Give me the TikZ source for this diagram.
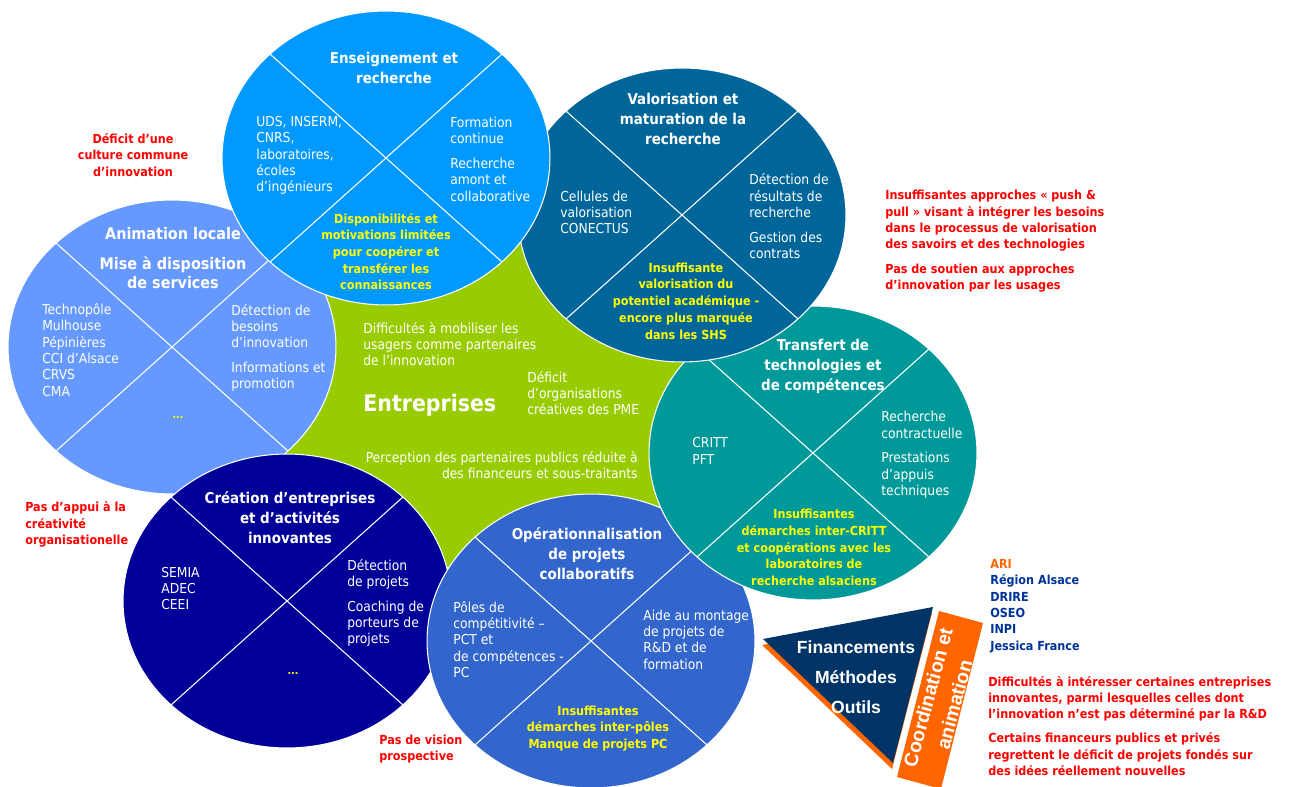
\documentclass[tikz,border=0pt]{standalone}
\usepackage{fontspec}
\setmainfont{DejaVu Sans Condensed}
\newfontfamily\arialfont{Liberation Sans}
\usepackage{xcolor}
\usetikzlibrary{positioning,shapes.geometric}

\definecolor{ensblue}{HTML}{0099FF}
\definecolor{valoblue}{HTML}{006699}
\definecolor{animblue}{HTML}{6699FF}
\definecolor{transteal}{HTML}{009999}
\definecolor{creanavy}{HTML}{000099}
\definecolor{operblue}{HTML}{3366CC}
\definecolor{entgreen}{HTML}{99CC00}
\definecolor{trinavy}{HTML}{003366}
\definecolor{ariorange}{HTML}{FF6600}
\definecolor{actorblue}{HTML}{003399}
\definecolor{lackred}{HTML}{FF0000}
\definecolor{issueyellow}{HTML}{FFFF00}

\tikzset{
  bubble/.style={ellipse, minimum width=6.56cm, minimum height=5.88cm, inner sep=0pt, outer sep=0pt, draw=white, line width=0.6pt},
  quarterline/.style={draw=white, line width=0.6pt},
  head/.style={text=white, font=\bfseries\fontsize{8.5}{11.4}\selectfont, align=center, inner sep=0pt},
  item/.style={text=white, font=\fontsize{7.8}{9.3}\selectfont, align=left, anchor=west, inner sep=0pt},
  issue/.style={text=issueyellow, font=\bfseries\fontsize{7.1}{9.5}\selectfont, align=center, inner sep=0pt},
  lack/.style={text=lackred, font=\bfseries\fontsize{7.1}{9.3}\selectfont, align=left, anchor=west, inner sep=0pt}
}

\begin{document}
\begin{tikzpicture}[x=0.02cm, y=-0.02cm]
\useasboundingbox (0,0) rectangle (1289,787);

% Entreprises
\node[ellipse, fill=entgreen, minimum width=9.2cm, minimum height=6.8cm] (ent) at (490,400) {};

% Animation locale
\node[bubble, fill=animblue] (anim) at (172,347) {};
\draw[quarterline] (anim.north west) -- (anim.south east) (anim.north east) -- (anim.south west);
\node[head, font=\bfseries\fontsize{9.1}{11.1}\selectfont] (anim-t) at (173,258.5) {Animation locale\\[5.7pt]Mise à disposition\\de services};
\node[item] (anim-l) at (42,350) {Technopôle\\Mulhouse\\Pépinières\\CCI d’Alsace\\CRVS\\CMA};
\node[item] (anim-r) at (231,348) {Détection de\\besoins\\d’innovation\\[4.8pt]Informations et\\promotion};
\node[issue, font=\bfseries\fontsize{6}{7}\selectfont] (anim-b) at (178,418) {...};

% Creation
\node[bubble, fill=creanavy] (crea) at (287,601) {};
\draw[quarterline] (crea.north west) -- (crea.south east) (crea.north east) -- (crea.south west);
\node[head] (crea-t) at (290,518) {Création d’entreprises\\et d’activités\\innovantes};
\node[item] (crea-l) at (161,588.5) {SEMIA\\ADEC\\CEEI};
\node[item] (crea-r) at (347,603) {Détection\\de projets\\[4.8pt]Coaching de\\porteurs de\\projets};
\node[issue, font=\bfseries\fontsize{6}{7}\selectfont] (crea-b) at (293,674) {...};

% Operationnalisation
\node[bubble, fill=operblue] (oper) at (591,641) {};
\draw[quarterline] (oper.north west) -- (oper.south east) (oper.north east) -- (oper.south west);
\node[head] (oper-t) at (587,554) {Opérationnalisation\\de projets\\collaboratifs};
\node[item] (oper-l) at (453,639.5) {Pôles de\\compétitivité –\\PCT et\\de compétences -\\PC};
\node[item] (oper-r) at (643,639.5) {Aide au montage\\de projets de\\R\&D et de\\formation};
\node[issue] (oper-b) at (598,728.5) {Insuffisantes\\démarches inter-pôles\\Manque de projets PC};

% Transfert
\node[bubble, fill=transteal] (trans) at (813,453) {};
\draw[quarterline] (trans.north west) -- (trans.south east) (trans.north east) -- (trans.south west);
\node[head] (trans-t) at (823,366) {Transfert de\\technologies et\\de compétences};
\node[item] (trans-l) at (692,451) {CRITT\\PFT};
\node[item] (trans-r) at (881,455) {Recherche\\contractuelle\\[4.8pt]Prestations\\d’appuis\\techniques};
\node[issue] (trans-b) at (814,547.5) {Insuffisantes\\démarches inter-CRITT\\et coopérations avec les\\laboratoires de\\recherche alsaciens};

% Valorisation
\node[bubble, fill=valoblue] (valo) at (682,215) {};
\draw[quarterline] (valo.north west) -- (valo.south east) (valo.north east) -- (valo.south west);
\node[head] (valo-t) at (683,119) {Valorisation et\\maturation de la\\recherche};
\node[item] (valo-l) at (560,212.5) {Cellules de\\valorisation\\CONECTUS};
\node[item] (valo-r) at (749,216.5) {Détection de\\résultats de\\recherche\\[4.8pt]Gestion des\\contrats};
\node[issue] (valo-b) at (686,301) {Insuffisante\\valorisation du\\potentiel académique -\\encore plus marquée\\dans les SHS};

% Enseignement
\node[bubble, fill=ensblue] (ens) at (386,158) {};
\draw[quarterline] (ens.north west) -- (ens.south east) (ens.north east) -- (ens.south west);
\node[head] (ens-t) at (394,68) {Enseignement et\\recherche};
\node[item] (ens-l) at (256,155.5) {UDS, INSERM,\\CNRS,\\laboratoires,\\écoles\\d’ingénieurs};
\node[item] (ens-r) at (450,159) {Formation\\continue\\[4.8pt]Recherche\\amont et\\collaborative};
\node[issue] (ens-b) at (386,251.5) {Disponibilités et\\motivations limitées\\pour coopérer et\\transférer les\\connaissances};

% textes entreprises
\node[item] (usagers) at (363,344) {Difficultés à mobiliser les\\usagers comme partenaires\\de l’innovation};
\node[item, font=\bfseries\fontsize{13}{15}\selectfont] (ent-t) at (363,405) {Entreprises};
\node[item] (pme) at (527,393) {Déficit\\d’organisations\\créatives des PME};
\node[item, anchor=east, align=right] (percep) at (638,465) {Perception des partenaires publics réduite à\\des financeurs et sous-traitants};

% manques
\node[lack, align=center, anchor=center] (culture) at (133,155) {Déficit d’une\\culture commune\\d’innovation};
\node[lack] (appui) at (25,524.5) {Pas d’appui à la\\créativité\\organisationelle};
\node[lack] (vision) at (379,749) {Pas de vision\\prospective};
\node[lack] (push) at (885,241.5) {Insuffisantes approches « push \&\\pull » visant à intégrer les besoins\\dans le processus de valorisation\\des savoirs et des technologies\\[4.8pt]Pas de soutien aux approches\\d’innovation par les usages};
\node[lack] (interet) at (988,726) {Difficultés à intéresser certaines entreprises\\innovantes, parmi lesquelles celles dont\\l’innovation n’est pas déterminé par la R\&D\\[4.4pt]Certains financeurs publics et privés\\regrettent le déficit de projets fondés sur\\des idées réellement nouvelles};
\node[lack, text=actorblue] (acteurs) at (990,606) {\textcolor{ariorange}{ARI}\\Région Alsace\\DRIRE\\OSEO\\INPI\\Jessica France};

% triangle
\fill[ariorange] (762,645) -- (932,613) -- (892,769) -- cycle;
\fill[trinavy] (763,639) -- (933,607) -- (893,763) -- cycle;
\node[text=white, font=\arialfont\bfseries\fontsize{10}{17}\selectfont, align=center] (outils) at (856,677) {Financements\\Méthodes\\Outils};
\fill[ariorange] (939,611) -- (983,623) -- (941,789) -- (897,777) -- cycle;
\node[rotate=75, text=white, font=\arialfont\bfseries\fontsize{11}{15.5}\selectfont, align=center] (coord) at (941,701) {Coordination et\\animation};
\end{tikzpicture}
\end{document}
